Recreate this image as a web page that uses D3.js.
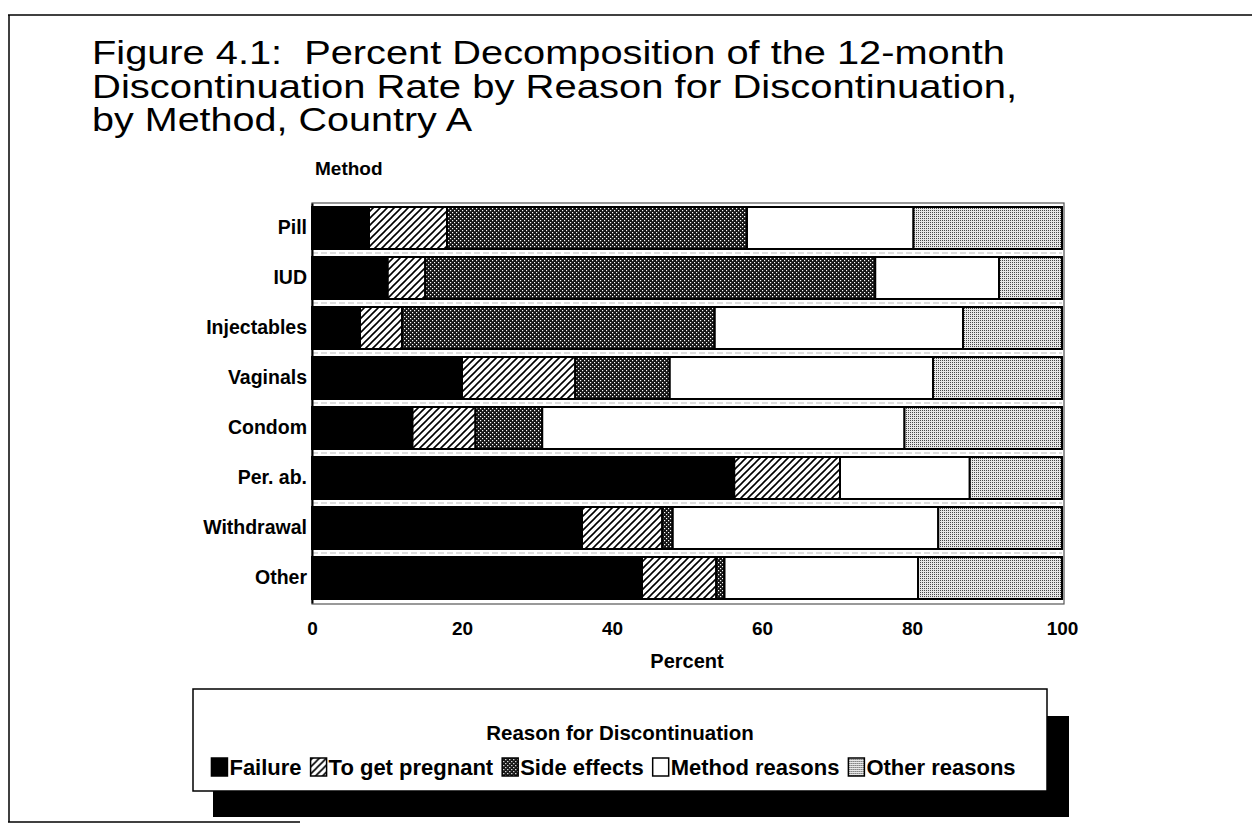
<!DOCTYPE html>
<html>
<head>
<meta charset="utf-8">
<script src="https://cdn.jsdelivr.net/npm/d3@7"></script>
<style>
  html, body { margin: 0; padding: 0; background: #fff; }
  svg { display: block; }
  text { font-family: "Liberation Sans", Arial, Helvetica, sans-serif; fill: #000; white-space: pre; }
</style>
</head>
<body>
<svg id="chart" width="1252" height="825"></svg>
<script>
// ---------- data ----------
const methods = ["Pill", "IUD", "Injectables", "Vaginals", "Condom", "Per. ab.", "Withdrawal", "Other"];
const reasons = ["Failure", "To get pregnant", "Side effects", "Method reasons", "Other reasons"];
const failure      = [7.6, 10.1, 6.4, 20.0, 13.4, 56.3, 36.0, 44.0];
const toGetPreg    = [10.4, 5.0, 5.6, 15.1, 8.4, 14.1, 10.7, 9.9];
const sideEffects  = [40.0, 60.0, 41.7, 12.6, 8.9, 0.0, 1.4, 1.1];
const methodReas   = [22.2, 16.5, 33.1, 35.1, 48.3, 17.3, 35.4, 25.8];
const otherReas    = [19.8, 8.4, 13.2, 17.2, 21.0, 12.3, 16.5, 19.2];
const xTicks = [0, 20, 40, 60, 80, 100];
const titleLines = [
  "Figure 4.1:  Percent Decomposition of the 12-month",
  "Discontinuation Rate by Reason for Discontinuation,",
  "by Method, Country A"
];
const titleWidths = [913, 925, 380];

const seriesArrays = [failure, toGetPreg, sideEffects, methodReas, otherReas];
const rows = methods.map((m, i) => {
  const o = { method: m };
  reasons.forEach((r, k) => o[r] = seriesArrays[k][i]);
  return o;
});

const svg = d3.select("#chart");
const defs = svg.append("defs");

// hatch pattern
const hatch = defs.append("pattern").attr("id", "hatch")
  .attr("patternUnits", "userSpaceOnUse").attr("width", 7).attr("height", 7);
hatch.append("rect").attr("width", 7).attr("height", 7).attr("fill", "#fff");
hatch.append("path").attr("d", "M-1,1 L1,-1 M0,7 L7,0 M6,8 L8,6")
  .attr("stroke", "#000").attr("stroke-width", 1.6);

// dense pattern (side effects)
const dense = defs.append("pattern").attr("id", "dense")
  .attr("patternUnits", "userSpaceOnUse").attr("width", 4).attr("height", 4);
dense.append("rect").attr("width", 4).attr("height", 4).attr("fill", "#151515");
dense.append("rect").attr("x", 0).attr("y", 0).attr("width", 1.2).attr("height", 1.2).attr("fill", "#fff");
dense.append("rect").attr("x", 2).attr("y", 2).attr("width", 1.2).attr("height", 1.2).attr("fill", "#fff");

// light dotted pattern (other reasons)
const light = defs.append("pattern").attr("id", "light")
  .attr("patternUnits", "userSpaceOnUse").attr("width", 2).attr("height", 2);
light.append("rect").attr("width", 2).attr("height", 2).attr("fill", "#e8e8e8");
light.append("rect").attr("width", 1).attr("height", 1).attr("fill", "#4a4a4a");

const fills = d3.scaleOrdinal().domain(reasons)
  .range(["#000", "url(#hatch)", "url(#dense)", "#fff", "url(#light)"]);

// ---------- frame ----------
svg.append("line").attr("x1", 8).attr("x2", 1252).attr("y1", 15).attr("y2", 15)
  .attr("stroke", "#000").attr("stroke-width", 1.5);
svg.append("line").attr("x1", 9).attr("x2", 9).attr("y1", 15).attr("y2", 822)
  .attr("stroke", "#000").attr("stroke-width", 1.5);
svg.append("line").attr("x1", 8).attr("x2", 300).attr("y1", 822).attr("y2", 822)
  .attr("stroke", "#000").attr("stroke-width", 1.5);

// ---------- title ----------
svg.append("g").selectAll("text").data(titleLines).join("text")
  .attr("x", 92).attr("y", (d, i) => 64 + i * 33.5)
  .attr("font-size", 33)
  .attr("textLength", (d, i) => titleWidths[i])
  .attr("lengthAdjust", "spacingAndGlyphs")
  .text(d => d);

// ---------- scales ----------
const x = d3.scaleLinear().domain([0, 100]).range([312, 1062]);
const y = d3.scaleBand().domain(methods).range([203, 603])
  .paddingInner(0.16).paddingOuter(0.08);

// plot frame
svg.append("rect").attr("x", x(0)).attr("y", 203)
  .attr("width", x(100) - x(0) + 2).attr("height", 401)
  .attr("fill", "#fff").attr("stroke", "#555").attr("stroke-width", 1.2);

// gap lines between bars
svg.append("g").selectAll("line").data(methods.slice(1)).join("line")
  .attr("x1", x(0)).attr("x2", x(100))
  .attr("y1", d => y(d) - y.step() * 0.08).attr("y2", d => y(d) - y.step() * 0.08)
  .attr("stroke", "#aaa").attr("stroke-width", 0.8).attr("stroke-dasharray", "6,3");

// ---------- bars ----------
const stacked = d3.stack().keys(reasons)(rows);
svg.append("g").selectAll("g").data(stacked).join("g")
  .attr("fill", d => fills(d.key))
  .selectAll("rect").data(d => d).join("rect")
  .attr("x", d => x(d[0]))
  .attr("y", d => y(d.data.method))
  .attr("width", d => Math.max(0, x(d[1]) - x(d[0])))
  .attr("height", y.bandwidth())
  .attr("stroke", "#000").attr("stroke-width", 2);

// ---------- axes ----------
const yAxis = d3.axisLeft(y).tickSize(0).tickPadding(5);
const gy = svg.append("g").attr("transform", `translate(${x(0)},0)`).call(yAxis);
gy.attr("font-size", null).attr("font-family", null);
gy.select(".domain").attr("stroke", "#000").attr("stroke-width", 2);
gy.selectAll("text").attr("font-size", 19.5).attr("font-weight", "bold");

const xAxis = d3.axisBottom(x).tickValues(xTicks).tickSize(0).tickPadding(0);
const gx = svg.append("g").attr("transform", "translate(0,621)").call(xAxis);
gx.attr("font-size", null).attr("font-family", null);
gx.select(".domain").remove();
gx.selectAll("text").attr("font-size", 19).attr("font-weight", "bold");

svg.append("text").attr("x", 315).attr("y", 175)
  .attr("font-size", 19).attr("font-weight", "bold").text("Method");
svg.append("text").attr("x", x(50)).attr("y", 668).attr("text-anchor", "middle")
  .attr("font-size", 20).attr("font-weight", "bold").text("Percent");

// ---------- legend ----------
const lg = svg.append("g");
lg.append("rect").attr("x", 213).attr("y", 716).attr("width", 856).attr("height", 101).attr("fill", "#000");
lg.append("rect").attr("x", 193).attr("y", 689).attr("width", 854).attr("height", 102)
  .attr("fill", "#fff").attr("stroke", "#000").attr("stroke-width", 1.5);
lg.append("text").attr("x", 620).attr("y", 740).attr("text-anchor", "middle")
  .attr("font-size", 20.5).attr("font-weight", "bold").text("Reason for Discontinuation");

const items = lg.append("g");
let cx = 0;
reasons.forEach(r => {
  const it = items.append("g").attr("transform", `translate(${cx},0)`);
  it.append("rect").attr("x", 1).attr("y", -17).attr("width", 16).attr("height", 18)
    .attr("fill", fills(r)).attr("stroke", "#000").attr("stroke-width", 1.5);
  const t = it.append("text").attr("x", 19).attr("y", 0)
    .attr("font-size", 22).attr("font-weight", "bold").text(r);
  cx += 19 + t.node().getComputedTextLength() + 8;
});
const totalW = cx - 8;
items.attr("transform", `translate(${613 - totalW / 2},775)`);
</script>
</body>
</html>
